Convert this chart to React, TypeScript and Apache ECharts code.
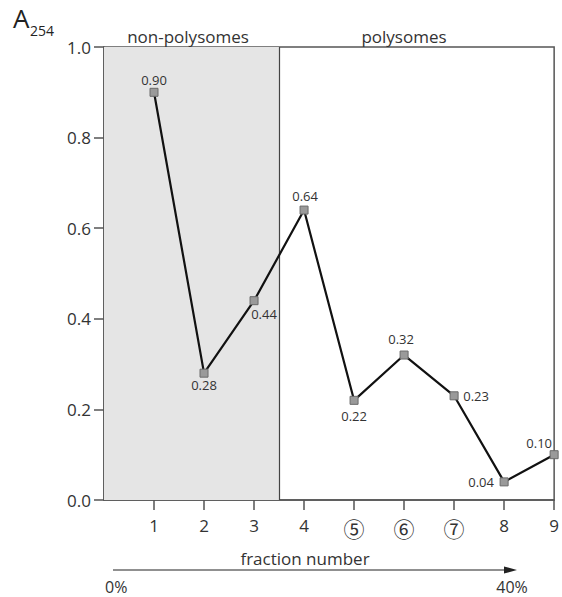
import React, { useEffect, useRef } from "react";
import * as echarts from "echarts";

const fractions = [1, 2, 3, 4, 5, 6, 7, 8, 9];
const tickLabels = ["1", "2", "3", "4", "⑤", "⑥", "⑦", "8", "9"];
const circledFractions = [5, 6, 7];
const a254Values = [0.9, 0.28, 0.44, 0.64, 0.22, 0.32, 0.23, 0.04, 0.1];
const valueLabels = ["0.90", "0.28", "0.44", "0.64", "0.22", "0.32", "0.23", "0.04", "0.10"];
const yTicks = [0, 0.2, 0.4, 0.6, 0.8, 1.0];
const regionSplit = 3.5;
const regionNames = ["non-polysomes", "polysomes"];
const gradientLabels = ["0%", "40%"];

const labelOffsets: [number, number][] = [
  [0, -12],
  [0, 12],
  [10, 13],
  [1, -14],
  [0, 16],
  [-3, -16],
  [22, 0],
  [-23, 0],
  [-15, -12],
];

const FONT = "'Open Sans', 'Noto Sans', sans-serif";

export default function App() {
  const ref = useRef<HTMLDivElement>(null);
  useEffect(() => {
    if (!ref.current) return;
    const chart = echarts.init(ref.current, null, { renderer: "svg" });
    const frame = "#555555";
    chart.setOption({
      animation: false,
      textStyle: { fontFamily: FONT },
      grid: {
        left: 104,
        right: 5,
        top: 47,
        bottom: 97,
        show: true,
        borderColor: frame,
        borderWidth: 1.5,
        backgroundColor: "transparent",
      },
      xAxis: {
        type: "value",
        min: 0,
        max: 9,
        interval: 1,
        splitLine: { show: false },
        axisLine: { lineStyle: { color: frame, width: 1.5 } },
        axisTick: {
          show: true,
          length: 10,
          customValues: fractions,
          lineStyle: { color: frame, width: 1.5 },
        },
        axisLabel: {
          customValues: fractions,
          margin: 17,
          fontSize: 17,
          color: "#333",
          fontFamily: FONT,
          rich: {
            c: {
              fontSize: 21,
              fontFamily: "'Noto Sans CJK JP', 'Noto Sans CJK SC', sans-serif",
              color: "#333",
            },
          },
          formatter: (v: number) => {
            const i = fractions.indexOf(v);
            if (i < 0) return "";
            return circledFractions.includes(v) ? `{c|${tickLabels[i]}}` : tickLabels[i];
          },
        },
      },
      yAxis: {
        type: "value",
        min: 0,
        max: 1,
        interval: 0.2,
        splitLine: { show: false },
        axisLine: { show: true, lineStyle: { color: frame, width: 1.5 } },
        axisTick: { show: true, length: 10, lineStyle: { color: frame, width: 1.5 } },
        axisLabel: {
          margin: 13,
          fontSize: 17,
          color: "#333",
          fontFamily: FONT,
          formatter: (v: number) => (yTicks.some((t) => Math.abs(t - v) < 1e-9) ? v.toFixed(1) : ""),
        },
      },
      series: [
        {
          type: "line",
          data: [],
          z: 1,
          silent: true,
          markArea: {
            silent: true,
            itemStyle: { color: "#e5e5e5" },
            label: { show: false },
            data: [[{ coord: [0, 0] }, { coord: [regionSplit, 1] }]],
          },
          markLine: {
            silent: true,
            symbol: "none",
            label: { show: false },
            lineStyle: { color: "#444", width: 1.2, type: "solid" },
            data: [{ xAxis: regionSplit }],
          },
        },
        {
          type: "line",
          z: 5,
          clip: false,
          data: a254Values.map((v, i) => ({
            value: [fractions[i], v],
            label: {
              show: true,
              position: "inside",
              offset: labelOffsets[i],
              formatter: valueLabels[i],
            },
          })),
          lineStyle: { color: "#111", width: 2.2 },
          symbol: "rect",
          symbolSize: 8,
          itemStyle: { color: "#9a9a9a", borderColor: "#6a6a6a", borderWidth: 1 },
          label: {
            fontSize: 13,
            color: "#333",
            fontFamily: FONT,
            align: "center",
            verticalAlign: "middle",
          },
        },
      ],
      graphic: [
        {
          type: "text",
          x: 13,
          y: 18,
          style: { text: "A", fontSize: 26, fontFamily: FONT, fill: "#222", textVerticalAlign: "middle" },
        },
        {
          type: "text",
          x: 30,
          y: 30,
          style: { text: "254", fontSize: 14, fontFamily: FONT, fill: "#222", textVerticalAlign: "middle" },
        },
        {
          type: "text",
          x: 188,
          y: 36,
          style: { text: regionNames[0], fontSize: 17, fontFamily: FONT, fill: "#333", textAlign: "center", textVerticalAlign: "middle" },
        },
        {
          type: "text",
          x: 404,
          y: 36,
          style: { text: regionNames[1], fontSize: 17, fontFamily: FONT, fill: "#333", textAlign: "center", textVerticalAlign: "middle" },
        },
        {
          type: "text",
          x: 305,
          y: 558,
          style: { text: "fraction number", fontSize: 17, fontFamily: FONT, fill: "#333", textAlign: "center", textVerticalAlign: "middle" },
        },
        {
          type: "line",
          shape: { x1: 113, y1: 570, x2: 508, y2: 570 },
          style: { stroke: "#222", lineWidth: 1.2 },
        },
        {
          type: "polygon",
          shape: { points: [[517, 570], [504, 566.5], [504, 573.5]] },
          style: { fill: "#222" },
        },
        {
          type: "text",
          x: 105,
          y: 587,
          style: { text: gradientLabels[0], fontSize: 16, fontFamily: FONT, fill: "#333", textAlign: "left", textVerticalAlign: "middle" },
        },
        {
          type: "text",
          x: 512,
          y: 587,
          style: { text: gradientLabels[1], fontSize: 16, fontFamily: FONT, fill: "#333", textAlign: "center", textVerticalAlign: "middle" },
        },
      ],
    });
    return () => chart.dispose();
  }, []);
  return (
    <div
      ref={ref}
      style={{ position: "fixed", left: 0, top: 0, width: 562, height: 597, background: "#fff" }}
    />
  );
}
